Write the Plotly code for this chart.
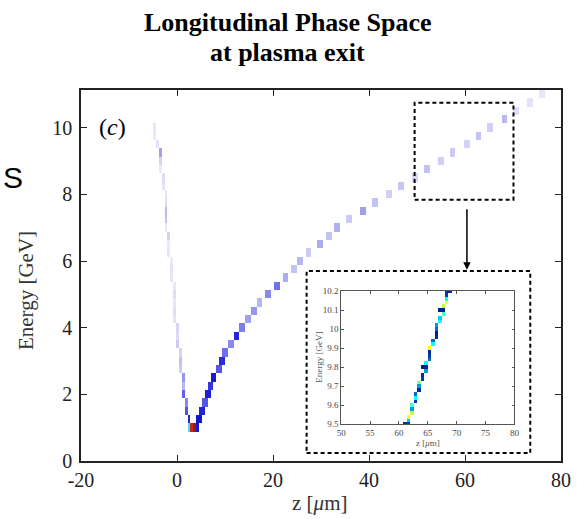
import math
import plotly.graph_objects as go

# Fig: longitudinal phase space at plasma exit (main histogram + zoomed inset)

# --- main histogram ---
# left (head) branch: energy row [GeV], z [um], counts
left_E = [1.25, 1.5, 1.75, 2.0, 2.25, 2.5, 2.75, 3.0, 3.25, 3.5, 3.75, 4.0,
          4.25, 4.5, 4.75, 5.0, 5.25, 5.5, 5.75, 6.0, 6.25, 6.5, 6.75, 7.0,
          7.25, 7.5, 7.75, 8.0, 8.25, 8.5, 8.75, 9.0, 9.25, 9.5, 9.75, 10.0]
left_z = [2.2, 2.0, 1.7, 1.4, 1.2, 1.0, 0.8, 0.6, 0.4, 0.2, 0.0, -0.2,
          -0.3, -0.4, -0.5, -0.7, -0.8, -1.0, -1.2, -1.4, -1.5, -1.7, -1.9, -2.1,
          -2.2, -2.3, -2.5, -2.6, -2.8, -3.1, -3.3, -3.5, -3.8, -4.2, -4.6, -5.0]
left_w = [40, 30, 22, 28, 14, 20, 10, 12, 8, 10, 6, 8,
          5, 6, 4, 6, 3, 4, 5, 3, 4, 3, 8, 4,
          12, 14, 6, 4, 5, 6, 3, 8, 18, 5, 3, 4]

# right (tail) branch
right_E = [1.25, 1.5, 1.75, 2.0, 2.25, 2.5, 2.75, 3.0, 3.25, 3.5, 3.75, 4.0,
           4.25, 4.5, 4.75, 5.0, 5.25, 5.5, 5.75, 6.0, 6.25, 6.5, 6.75, 7.0,
           7.25, 7.5, 7.75, 8.0, 8.25, 8.5, 8.75, 9.0, 9.25, 9.5, 9.75, 10.0,
           10.25, 10.5, 10.75, 11.0]
right_z = [4.6, 5.1, 5.7, 6.4, 7.1, 7.8, 8.5, 9.3, 10.2, 11.2, 12.3, 13.5,
           14.7, 15.9, 17.4, 19.0, 20.7, 22.4, 24.2, 25.8, 27.5, 29.5, 31.5, 33.6,
           36.0, 38.6, 41.3, 44.0, 46.7, 49.3, 52.0, 54.8, 57.5, 60.2, 62.8, 65.4,
           68.0, 70.6, 73.3, 76.0]
right_w = [46, 40, 30, 42, 35, 44, 30, 38, 26, 22, 40, 24,
           18, 20, 14, 22, 26, 16, 12, 14, 10, 16, 12, 15,
           10, 18, 12, 9, 11, 8, 12, 9, 10, 8, 12, 9,
           14, 6, 5, 4]

# bottom of the V (peak current)
bottom_E = [1.0, 1.0, 1.0, 1.0]
bottom_z = [2.5, 3.1, 3.7, 4.3]
bottom_w = [60, 88, 98, 45]

x_ticks = [-20, 0, 20, 40, 60, 80]
x_ticktext = ['-20', '0', '20', '40', '60', '80']

# --- inset (zoom of 9.5-10.2 GeV) ---
inset_E = [9.50, 9.50, 9.52, 9.54, 9.56, 9.58, 9.60, 9.62, 9.64, 9.66, 9.68,
           9.70, 9.70, 9.70, 9.72, 9.74, 9.76, 9.78, 9.80, 9.80, 9.82, 9.84,
           9.86, 9.88, 9.90, 9.92, 9.94, 9.96, 9.98, 10.00, 10.02, 10.04, 10.06,
           10.08, 10.10, 10.10, 10.12, 10.14, 10.16, 10.18, 10.20, 10.20]
inset_z = [61.2, 61.6, 61.6, 61.8, 62.0, 62.0, 62.2, 62.6, 62.8, 63.0, 63.2,
           63.2, 63.6, 63.8, 63.8, 63.9, 64.2, 64.4, 64.2, 64.6, 64.8, 65.0,
           65.2, 65.4, 65.6, 65.8, 66.0, 66.4, 66.4, 66.8, 66.8, 67.0, 67.2,
           67.4, 67.2, 67.6, 67.8, 68.0, 68.2, 68.4, 68.6, 69.0]
inset_v = [0.15, 0.2, 0.35, 0.6, 0.55, 0.3, 0.45, 0.2, 0.4, 0.25, 0.15,
           0.1, 0.1, 0.3, 0.5, 0.2, 0.15, 0.3, 0.1, 0.1, 0.4, 0.25,
           0.2, 0.15, 0.6, 0.4, 0.25, 0.15, 0.1, 0.25, 0.3, 0.4, 0.35,
           0.45, 0.1, 0.1, 0.55, 0.6, 0.4, 0.2, 0.15, 0.15]


def grid(zs, es, ws, z0, dz, nz, e0, de, ne):
    # sparse cells -> 2D matrix with gaps (None) for the heatmap
    m = [[None] * nz for _ in range(ne)]
    for zz, ee, ww in zip(zs, es, ws):
        i = int(math.floor((zz - z0) / dz))
        j = int(math.floor((ee - e0) / de + 0.5))
        if 0 <= i < nz and 0 <= j < ne:
            m[j][i] = ww if m[j][i] is None else max(m[j][i], ww)
    xs = [z0 + dz * (k + 0.5) for k in range(nz)]
    ys = [e0 + de * k for k in range(ne)]
    return xs, ys, m


# right branch is two bins wide in z
rz, rE, rw = [], [], []
for zz, ee, ww in zip(right_z, right_E, right_w):
    rz += [zz - 0.3, zz + 0.3]
    rE += [ee, ee]
    rw += [ww, ww]

mx, my, mz = grid(left_z + rz + bottom_z, left_E + rE + bottom_E,
                  left_w + rw + bottom_w, -20, 0.6, 167, 0, 0.25, 46)
ix, iy, iz = grid(inset_z, inset_E, inset_v, 50, 0.6, 50, 9.5, 0.02, 36)

main_scale = [[0, '#f4f4fd'], [0.05, '#e2e2fa'], [0.12, '#c2c2f4'],
              [0.22, '#8a8aec'], [0.35, '#3434e4'], [0.46, '#1414c8'],
              [0.6, '#40e4e8'], [0.75, '#f0f020'], [0.88, '#d02020'],
              [1, '#802020']]

fig = go.Figure()
fig.add_trace(go.Heatmap(x=mx, y=my, z=mz, colorscale=main_scale, zmin=0, zmax=100,
                         showscale=False, hoverinfo='skip'))
fig.add_trace(go.Heatmap(x=ix, y=iy, z=iz, colorscale='Jet', zmin=0, zmax=1,
                         showscale=False, hoverinfo='skip', xaxis='x2', yaxis='y2'))

serif = 'Liberation Serif'
fig.update_layout(
    width=578, height=519,
    margin=dict(l=81, r=12, t=90, b=58),
    paper_bgcolor='white', plot_bgcolor='white',
    showlegend=False,
    xaxis=dict(range=[-20, 80], tickvals=x_ticks, ticktext=x_ticktext,
               ticks='inside', ticklen=6, tickwidth=1.2,
               tickcolor='#222', showline=True, linecolor='#222', linewidth=1.6,
               mirror='ticks', showgrid=False, zeroline=False, automargin=False,
               tickfont=dict(family=serif, size=20, color='#222')),
    yaxis=dict(range=[0, 11.13], dtick=2, ticks='inside', ticklen=6, tickwidth=1.2,
               tickcolor='#222', showline=True, linecolor='#222', linewidth=1.6,
               mirror='ticks', showgrid=False, zeroline=False, ticklabelstandoff=3,
               automargin=False,
               tickfont=dict(family=serif, size=20, color='#222')),
    xaxis2=dict(domain=[0.542, 0.903], anchor='y2', range=[50, 80], dtick=5,
                ticks='inside', ticklen=3, tickwidth=0.8, tickcolor='#555',
                showline=True, linecolor='#555', linewidth=0.8, mirror='ticks',
                showgrid=False, zeroline=False,
                tickfont=dict(family=serif, size=9, color='#444')),
    yaxis2=dict(domain=[0.0997, 0.458], anchor='x2', range=[9.5, 10.2], dtick=0.1,
                ticks='inside', ticklen=3, tickwidth=0.8, tickcolor='#555',
                showline=True, linecolor='#555', linewidth=0.8, mirror='ticks',
                showgrid=False, zeroline=False,
                tickfont=dict(family=serif, size=9, color='#444')),
)

dash = '4px,3px'
fig.add_shape(type='rect', xref='paper', yref='paper', x0=0.470, x1=0.936,
              y0=0.0216, y1=0.512, line=dict(color='black', width=2, dash=dash))
fig.add_shape(type='rect', xref='x', yref='y', x0=49.5, x1=70.1, y0=7.84, y1=10.75,
              line=dict(color='black', width=2, dash=dash))

fig.add_annotation(x=60.4, y=5.74, ax=60.4, ay=7.6, xref='x', yref='y', axref='x', ayref='y',
                   text='', showarrow=True, arrowhead=2, arrowsize=1, arrowwidth=1.5,
                   arrowcolor='black')

ann = [
    dict(text='<b>Longitudinal Phase Space</b>', x=0.431, y=1.183,
         font=dict(family=serif, size=26, color='black')),
    dict(text='<b>at plasma exit</b>', x=0.431, y=1.102,
         font=dict(family=serif, size=26, color='black')),
    dict(text='(<i>c</i>)', x=0.066, y=0.9, font=dict(family=serif, size=24, color='black')),
    dict(text='Energy [GeV]', x=-0.113, y=0.46, textangle=-90,
         font=dict(family=serif, size=21, color='#333')),
    dict(text='z [<i>μ</i>m]', x=0.497, y=-0.113, font=dict(family=serif, size=21, color='#333')),
    dict(text='Energy [GeV]', x=0.497, y=0.28, textangle=-90,
         font=dict(family=serif, size=9, color='#555')),
    dict(text='z [<i>μ</i>m]', x=0.722, y=0.0485, font=dict(family=serif, size=9, color='#555')),
]
for a in ann:
    fig.add_annotation(xref='paper', yref='paper', showarrow=False,
                       xanchor='center', yanchor='middle', **a)

# stray glyph from the neighbouring panel at the left edge
fig.add_annotation(text='S', xref='paper', yref='paper', x=-0.167, y=0.763,
                   xanchor='left', yanchor='middle', showarrow=False,
                   font=dict(family='Liberation Sans', size=30, color='black'))

fig.write_html("out.html", post_script="document.body.style.margin='0';",
               config={'displayModeBar': False})
